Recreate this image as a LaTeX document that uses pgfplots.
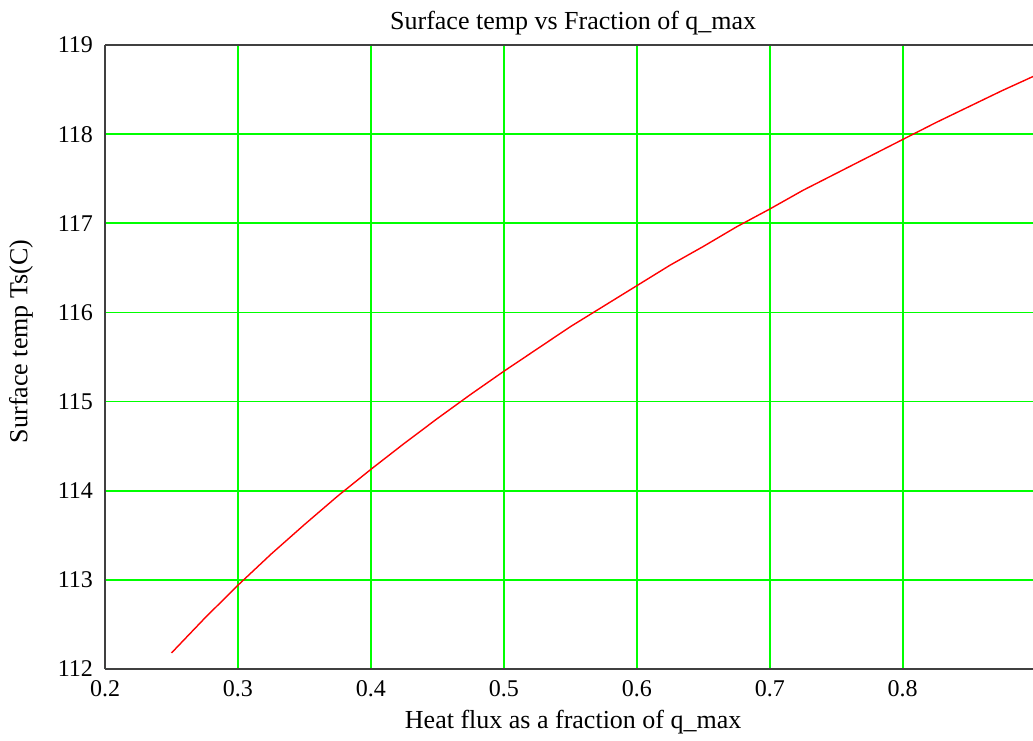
\documentclass[border=0pt]{standalone}
\usepackage{fontspec}
\setmainfont{Liberation Serif}
\usepackage{pgfplots}
\pgfplotsset{compat=1.18}

\definecolor{gridgreen}{RGB}{0,255,0}

\begin{document}
\begin{tikzpicture}
\useasboundingbox (-52.5pt,-35.5pt) rectangle (464pt,334.5pt);
\begin{axis}[
  at={(0,0)}, anchor=south west,
  scale only axis,
  width=464pt, height=312pt,
  xmin=0.2, xmax=0.898,
  ymin=112, ymax=119,
  xtick={0.2,0.3,...,0.81},
  ytick={112,113,...,119},
  xticklabel style={/pgf/number format/fixed,/pgf/number format/precision=1, yshift=-2pt},
  yticklabel style={xshift=-2.5pt},
  /pgf/number format/assume math mode=true,
  tick label style={font=\fontsize{12}{14}\selectfont},
  axis y line*=left,
  axis x line*=box,
  axis line style={black!75, line width=0.9pt},
  major tick length=0pt,
  xmajorgrids, ymajorgrids,
  grid style={gridgreen, line width=0.9pt},
  title={Surface temp vs Fraction of q\_max},
  title style={font=\fontsize{13}{15}\selectfont, at={(rel axis cs:0.5045,1)}, anchor=center, yshift=5pt},
  xlabel={Heat flux as a fraction of q\_max},
  ylabel={Surface temp Ts(C)},
  label style={font=\fontsize{13}{15}\selectfont},
  xlabel style={at={(rel axis cs:0.5045,0)}, anchor=center, yshift=-26.5pt},
  ylabel style={at={(rel axis cs:0,0.525)}, anchor=center, yshift=42pt},
  clip=true,
]
\addplot[red, line width=0.7pt] coordinates {
  (0.250,112.18) (0.275,112.57) (0.300,112.94) (0.325,113.29)
  (0.350,113.62) (0.375,113.94) (0.400,114.24) (0.425,114.53)
  (0.450,114.81) (0.475,115.08) (0.500,115.34) (0.525,115.59)
  (0.550,115.84) (0.575,116.07) (0.600,116.30) (0.625,116.53)
  (0.650,116.74) (0.675,116.96) (0.700,117.16) (0.725,117.37)
  (0.750,117.56) (0.775,117.75) (0.800,117.94) (0.825,118.13)
  (0.850,118.31) (0.875,118.49) (0.900,118.66)
};
\end{axis}
\end{tikzpicture}
\end{document}
